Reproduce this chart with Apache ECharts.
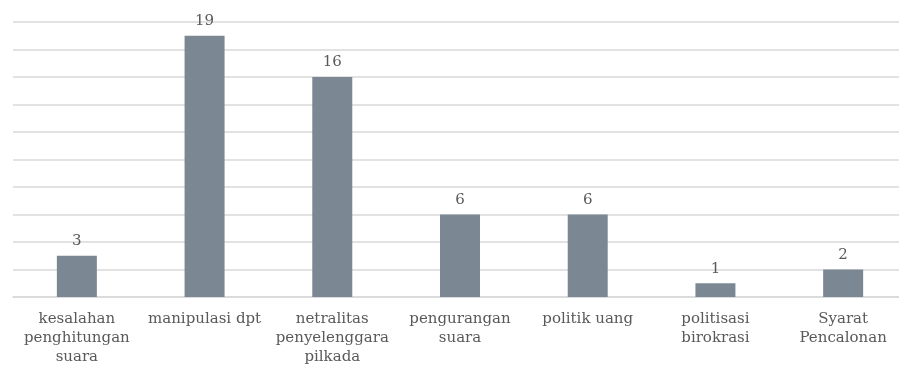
<!DOCTYPE html>
<html>
<head>
<meta charset="utf-8">
<script src="https://cdn.jsdelivr.net/npm/echarts@6/dist/echarts.min.js"></script>
<style>
html,body{margin:0;padding:0;background:#fff;overflow:hidden;width:899px;height:370px;}
#chart{width:910px;height:370px;}
</style>
</head>
<body>
<div id="chart"></div>
<script>
var categories = [
  "kesalahan\npenghitungan\nsuara",
  "manipulasi dpt",
  "netralitas\npenyelenggara\npilkada",
  "pengurangan\nsuara",
  "politik uang",
  "politisasi\nbirokrasi",
  "Syarat\nPencalonan"
];
var values = [3, 19, 16, 6, 6, 1, 2];

var chart = echarts.init(document.getElementById('chart'));
chart.setOption({
  animation: false,
  grid: { left: 13, top: 22, width: 894, height: 275, containLabel: false },
  xAxis: {
    type: 'category',
    data: categories,
    axisLine: { show: true, lineStyle: { color: '#d9d9d9', width: 1.5 } },
    axisTick: { show: false },
    axisLabel: {
      interval: 0,
      color: '#595959',
      fontFamily: 'DejaVu Serif',
      fontSize: 15,
      lineHeight: 19,
      margin: 13
    }
  },
  yAxis: {
    type: 'value',
    min: 0,
    max: 20,
    interval: 2,
    axisLine: { show: false },
    axisTick: { show: false },
    axisLabel: { show: false },
    splitLine: { lineStyle: { color: '#d9d9d9', width: 1.5 } }
  },
  series: [{
    type: 'bar',
    data: values,
    barWidth: 40,
    itemStyle: { color: '#7b8793' },
    label: {
      show: true,
      position: 'top',
      distance: 7,
      color: '#595959',
      fontFamily: 'DejaVu Serif',
      fontSize: 15
    }
  }]
});
</script>
</body>
</html>
